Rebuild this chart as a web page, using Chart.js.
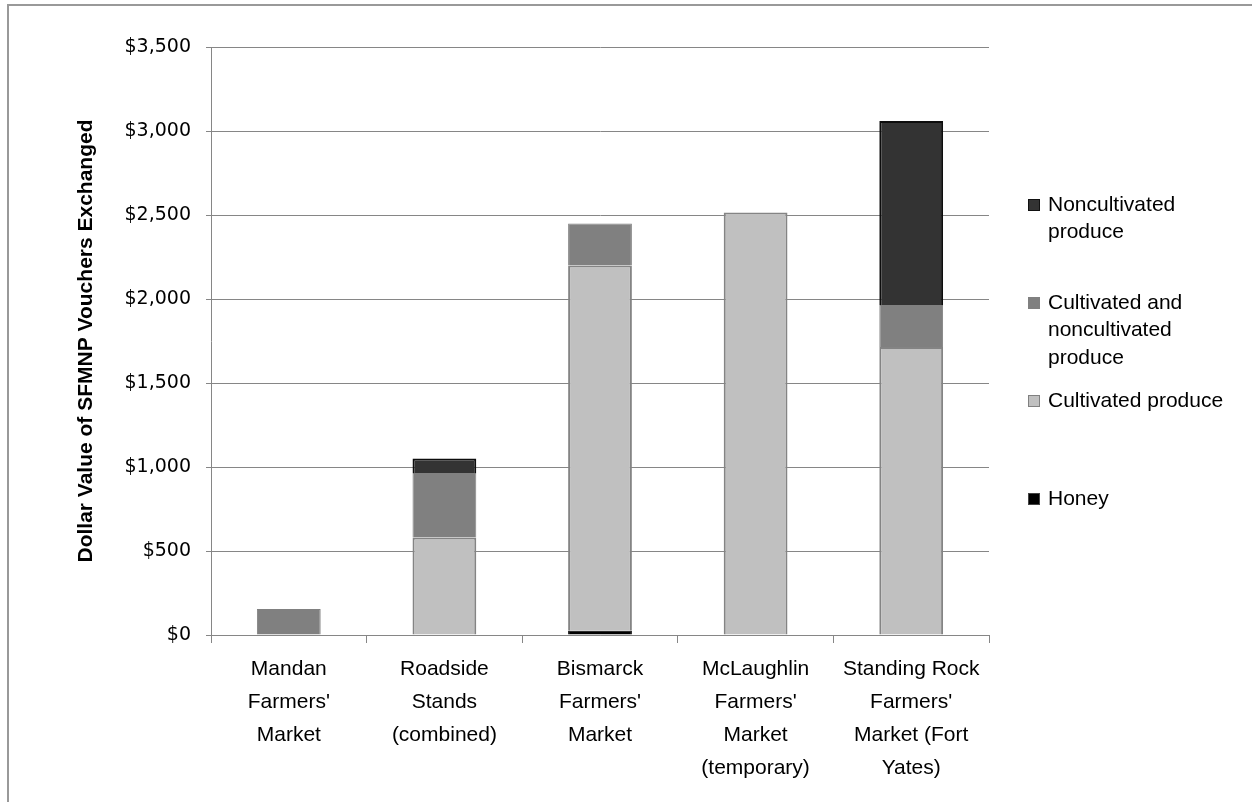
<!DOCTYPE html>
<html>
<head>
<meta charset="utf-8">
<script src="https://cdn.jsdelivr.net/npm/chart.js@4.4.0/dist/chart.umd.min.js"></script>
<style>
  html, body { margin: 0; padding: 0; background: #fff; }
  #wrap { width: 1252px; height: 802px; }
</style>
</head>
<body>
<div id="wrap"><canvas id="voucherChart" width="1252" height="802"></canvas></div>
<script>
// Markets (category labels, one entry per line)
const markets = [
    ['Mandan', "Farmers'", 'Market'],
    ['Roadside', 'Stands', '(combined)'],
    ['Bismarck', "Farmers'", 'Market'],
    ['McLaughlin', "Farmers'", 'Market', '(temporary)'],
    ['Standing Rock', "Farmers'", 'Market (Fort', 'Yates)']
];

// Voucher dollars by product type, stacked bottom to top
const honey = [null, null, 25, null, null];
const cultivated = [null, 580, 2175, 2515, 1715];
const cultivatedAndNon = [155, 385, 250, null, 250];
const noncultivated = [null, 85, null, null, 1095];

// Y axis ticks
const yTicks = [0, 500, 1000, 1500, 2000, 2500, 3000, 3500];

// Legend text, wrapped the way it is shown
const legendText = {
    'Noncultivated produce': ['Noncultivated', 'produce'],
    'Cultivated and noncultivated produce': ['Cultivated and', 'noncultivated', 'produce'],
    'Cultivated produce': ['Cultivated produce'],
    'Honey': ['Honey']
};

const gridGray = '#868686';

// Outer frame of the chart
const framePlugin = {
    id: 'frame',
    afterDraw(chart) {
        const ctx = chart.ctx;
        ctx.save();
        ctx.strokeStyle = '#999';
        ctx.lineWidth = 2;
        ctx.beginPath();
        ctx.moveTo(8, 802);
        ctx.lineTo(8, 5);
        ctx.lineTo(1252, 5);
        ctx.stroke();
        ctx.restore();
    }
};

// Legend on the right, top entry = top of the stack
const sideLegend = {
    id: 'sideLegend',
    afterDraw(chart) {
        const ctx = chart.ctx;
        const sets = chart.data.datasets.slice().reverse();
        const x = chart.chartArea.right + 39;
        let y = 205;
        ctx.save();
        ctx.font = '21px "Liberation Sans", Arial, sans-serif';
        ctx.textBaseline = 'middle';
        sets.forEach(ds => {
            ctx.fillStyle = ds.backgroundColor;
            ctx.fillRect(x, y - 6, 12, 12);
            ctx.strokeStyle = ds.legendEdge;
            ctx.lineWidth = 1;
            ctx.strokeRect(x + 0.5, y - 5.5, 11, 11);
            ctx.fillStyle = '#000';
            legendText[ds.label].forEach((line, i) => {
                ctx.fillText(line, x + 20, y + i * 27.5);
            });
            y += 98;
        });
        ctx.restore();
    }
};

const ctx = document.getElementById('voucherChart').getContext('2d');

new Chart(ctx, {
    type: 'bar',
    data: {
        labels: markets,
        datasets: [
            {
                label: 'Honey',
                data: honey,
                backgroundColor: '#000000',
                borderColor: '#000000',
                legendEdge: '#444',
                borderWidth: 1
            },
            {
                label: 'Cultivated produce',
                data: cultivated,
                backgroundColor: '#c0c0c0',
                borderColor: '#848484',
                legendEdge: '#808080',
                borderWidth: 2
            },
            {
                label: 'Cultivated and noncultivated produce',
                data: cultivatedAndNon,
                backgroundColor: '#808080',
                borderColor: '#808080',
                legendEdge: '#808080',
                borderWidth: 1
            },
            {
                label: 'Noncultivated produce',
                data: noncultivated,
                backgroundColor: '#333333',
                borderColor: '#0d0d0d',
                legendEdge: '#111',
                borderWidth: 2
            }
        ]
    },
    options: {
        responsive: false,
        animation: false,
        events: [],
        categoryPercentage: 1,
        barPercentage: 0.41,
        layout: {
            padding: { left: 0, right: 263, top: 47, bottom: 0 }
        },
        plugins: {
            legend: { display: false },
            tooltip: { enabled: false }
        },
        scales: {
            x: {
                stacked: true,
                afterFit: (scale) => { scale.height = 167; },
                grid: {
                    offset: true,
                    drawOnChartArea: false,
                    tickLength: 8,
                    color: gridGray
                },
                border: { color: gridGray, width: 1 },
                ticks: {
                    autoSkip: false,
                    maxRotation: 0,
                    padding: 10,
                    color: '#000',
                    font: {
                        family: '"Liberation Sans", Arial, sans-serif',
                        size: 21,
                        lineHeight: '33px'
                    }
                }
            },
            y: {
                stacked: true,
                min: yTicks[0],
                max: yTicks[yTicks.length - 1],
                afterFit: (scale) => { scale.width = 211; },
                afterBuildTicks: (scale) => {
                    scale.ticks = yTicks.map(v => ({ value: v }));
                },
                grid: {
                    color: gridGray,
                    tickLength: 5
                },
                border: { color: gridGray, width: 1 },
                ticks: {
                    padding: 15,
                    color: '#000',
                    font: { family: '"DejaVu Sans", sans-serif', size: 19 },
                    callback: (value) => '$' + value.toLocaleString('en-US')
                },
                title: {
                    display: true,
                    text: 'Dollar Value of SFMNP Vouchers Exchanged',
                    color: '#000',
                    padding: { top: 74, bottom: 0 },
                    font: { family: '"Liberation Sans", Arial, sans-serif', size: 21, weight: 'bold' }
                }
            }
        }
    },
    plugins: [framePlugin, sideLegend]
});
</script>
</body>
</html>
